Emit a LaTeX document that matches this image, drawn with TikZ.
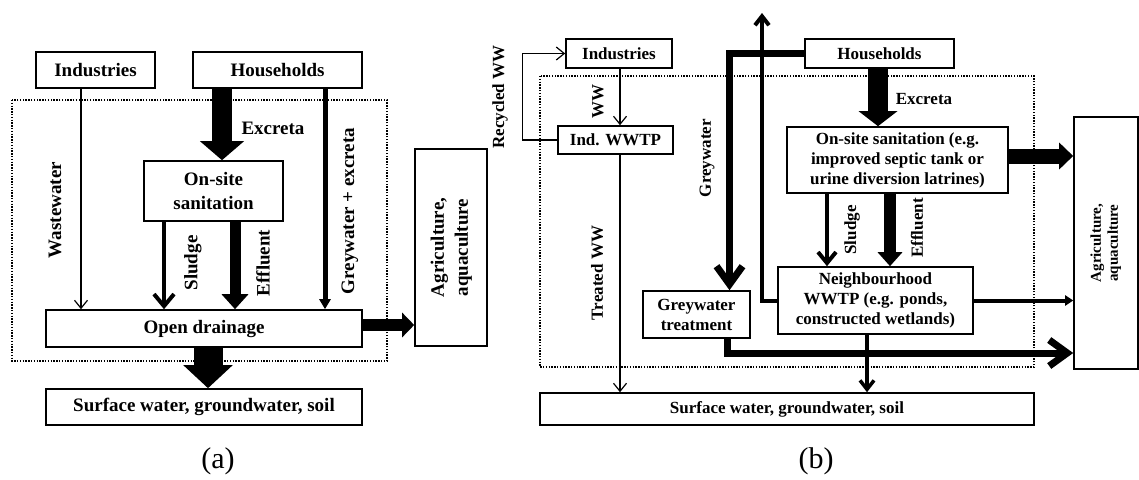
\documentclass[tikz,border=0pt]{standalone}
\usepackage{fontspec}
\setmainfont{Liberation Serif}
\usetikzlibrary{arrows.meta}

\tikzset{
  box/.style={draw, line width=1.6pt, align=center, inner sep=0pt},
  txta/.style={font=\fontsize{19}{24}\selectfont\bfseries},
  txtb/.style={font=\fontsize{17}{20}\selectfont\bfseries},
  txtc/.style={font=\fontsize{15}{17}\selectfont\bfseries},
  lbl/.style={inner sep=0pt},
  zone/.style={line width=1.3pt, dash pattern=on 1.4pt off 1.4pt},
  thinarr/.style={line width=1.2pt, -{Straight Barb[length=8pt,width=13pt]}},
  barb/.style n args={3}{line width=#1pt, -{Straight Barb[length=#2pt,width=#3pt]}},
  blk/.style n args={3}{line width=#1pt, -{Triangle[length=#2pt,width=#3pt]}},
}

\begin{document}
\begin{tikzpicture}[x=1pt, y=-1pt]
  \useasboundingbox (0,0) rectangle (1139,479);

  % ---- (a) open drainage
  \draw[zone] (12,100) rectangle (387,361);
  \node[box,txta,minimum width=119pt,minimum height=36pt] (indA) at (95.5,70) {Industries};
  \node[box,txta,minimum width=169pt,minimum height=36pt] (housA) at (277.5,70) {Households};
  \node[box,txta,minimum width=139pt,minimum height=60pt] (siteA) at (213.5,191) {On-site\\sanitation};
  \node[box,txta,minimum width=316pt,minimum height=37pt] (drainA) at (204,328.5) {Open drainage};
  \node[box,txta,minimum width=316pt,minimum height=36pt] (surfA) at (204,407) {Surface water, groundwater, soil};
  \node[box,txta,minimum width=72pt,minimum height=197pt] (agriA) at (451,247.5)
    {\rotatebox{90}{\begin{tabular}{@{}c@{}}Agriculture,\\aquaculture\end{tabular}}};

  \coordinate (cwwA) at (81,0);
  \coordinate (cexA) at (222,0);
  \coordinate (cgeA) at (325,0);
  \coordinate (cslA) at (164,0);
  \coordinate (cefA) at (235,0);
  \coordinate (cdnA) at (208,0);
  \coordinate (crtA) at (0,325);

  \draw[thinarr] (indA.south -| cwwA) -- (drainA.north -| cwwA);
  \draw[blk={20}{19}{43}] (housA.south -| cexA) -- (siteA.north -| cexA);
  \draw[blk={5}{10}{11}] (housA.south -| cgeA) -- (drainA.north -| cgeA);
  \draw[barb={4}{12}{20}] (siteA.south -| cslA) -- (drainA.north -| cslA);
  \draw[blk={11}{15}{26}] (siteA.south -| cefA) -- (drainA.north -| cefA);
  \draw[blk={29}{23}{48}] (drainA.south -| cdnA) -- (surfA.north -| cdnA);
  \draw[blk={12}{12}{24}] (drainA.east |- crtA) -- (agriA.west |- crtA);

  \node[lbl,txta,rotate=90] (wwlblA) at (55,210) {Wastewater};
  \node[lbl,txta] (exlblA) at (273,128) {Excreta};
  \node[lbl,txta,rotate=90] (gelblA) at (350,211) {Greywater + excreta};
  \node[lbl,txta,rotate=90] (sllblA) at (193,263) {Sludge};
  \node[lbl,txta,rotate=90] (eflblA) at (263,263) {Effluent};
  \node[font=\fontsize{30}{30}\selectfont] (capA) at (218,461) {(a)};

  % ---- (b) improved sanitation
  \draw[zone] (540,76) rectangle (1034,367);
  \node[box,txtb,minimum width=106pt,minimum height=29pt] (indB) at (619,53.5) {Industries};
  \node[box,txtb,minimum width=115pt,minimum height=28pt] (wwtpB) at (615.5,140) {Ind. WWTP};
  \node[box,txtb,minimum width=149pt,minimum height=29pt] (housB) at (879.5,53.5) {Households};
  \node[box,txtb,minimum width=221pt,minimum height=66pt] (siteB) at (897.5,160)
    {On-site sanitation (e.g.\\improved septic tank or\\urine diversion latrines)};
  \node[box,txtb,minimum width=195pt,minimum height=67pt] (neighB) at (875.5,300.5)
    {Neighbourhood\\WWTP (e.g. ponds,\\constructed wetlands)};
  \node[box,txtb,minimum width=107pt,minimum height=47pt] (greyB) at (696.5,314.5) {Greywater\\treatment};
  \node[box,txtb,minimum width=494pt,minimum height=32pt] (surfB) at (787,409) {Surface water, groundwater, soil};
  \node[box,txtc,minimum width=64pt,minimum height=252pt] (agriB) at (1106,243)
    {\rotatebox{90}{\begin{tabular}{@{}c@{}}Agriculture,\\aquaculture\end{tabular}}};

  \coordinate (cwwB) at (620,0);
  \coordinate (cgrB) at (729.5,0);
  \coordinate (cupB) at (762,13);
  \coordinate (cexB) at (878,0);
  \coordinate (cslB) at (827,0);
  \coordinate (cefB) at (890,0);
  \coordinate (cnsB) at (867,0);
  \coordinate (cgtB) at (727,0);
  \coordinate (cstB) at (0,156);
  \coordinate (cgyB) at (0,353);

  \draw[thinarr] (wwtpB.west) -- ++(-35,0) |- (indB.west);
  \draw[thinarr] (indB.south -| cwwB) -- (wwtpB.north -| cwwB);
  \draw[thinarr] (wwtpB.south -| cwwB) -- (surfB.north -| cwwB);
  \draw[barb={7}{18}{26}] (housB.west) -| (greyB.north -| cgrB);
  \draw[barb={4}{9}{14}] (neighB.west) -| (cupB);
  \draw[blk={20}{15}{38}] (housB.south -| cexB) -- (siteB.north -| cexB);
  \draw[blk={15}{14}{26}] (siteB.east |- cstB) -- (agriB.west |- cstB);
  \draw[barb={4}{11}{18}] (siteB.south -| cslB) -- (neighB.north -| cslB);
  \draw[blk={12}{14}{24}] (siteB.south -| cefB) -- (neighB.north -| cefB);
  \draw[blk={4}{8}{10}] (neighB.east) -- (agriB.west |- neighB.east);
  \draw[barb={7}{18}{26}] (greyB.south -| cgtB) |- (agriB.west |- cgyB);
  \draw[barb={3.5}{9}{14}] (neighB.south -| cnsB) -- (surfB.north -| cnsB);

  \node[lbl,txtb,rotate=90] (rclblB) at (500,97) {Recycled WW};
  \node[lbl,txtb,rotate=90] (wwlblB) at (598,101) {WW};
  \node[lbl,txtb,rotate=90] (twlblB) at (597,273) {Treated WW};
  \node[lbl,txtb,rotate=90] (grlblB) at (707,158) {Greywater};
  \node[lbl,txtb] (exlblB) at (924,99) {Excreta};
  \node[lbl,txtb,rotate=90] (sllblB) at (852,230) {Sludge};
  \node[lbl,txtb,rotate=90] (eflblB) at (917,228) {Effluent};
  \node[font=\fontsize{30}{30}\selectfont] (capB) at (816,461) {(b)};
\end{tikzpicture}
\end{document}
